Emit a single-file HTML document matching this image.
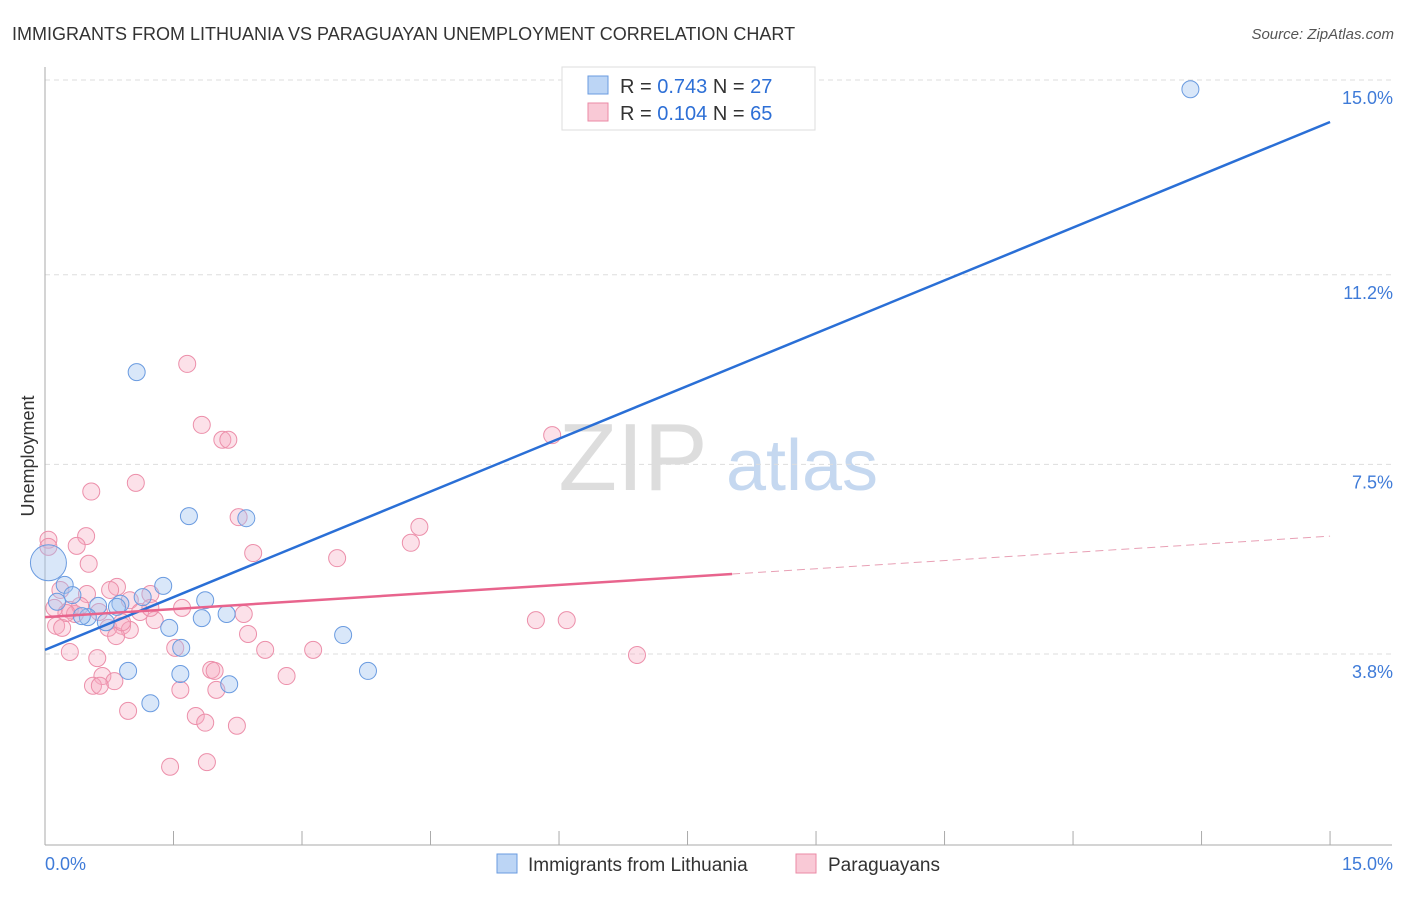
<!DOCTYPE html>
<html><head><meta charset="utf-8"><style>
body{margin:0;background:#fff;font-family:"Liberation Sans",sans-serif;}
svg text{font-family:"Liberation Sans",sans-serif;}
</style></head><body>
<svg id="c" width="1406" height="892">
<text x="12" y="40" font-size="18" fill="#333">IMMIGRANTS FROM LITHUANIA VS PARAGUAYAN UNEMPLOYMENT CORRELATION CHART</text>
<text x="1394" y="39" font-size="15" fill="#555" font-style="italic" text-anchor="end">Source: ZipAtlas.com</text>
<text transform="translate(34,456) rotate(-90)" font-size="18" fill="#333" text-anchor="middle">Unemployment</text>
<g><text x="633" y="490" font-size="96" fill="#ddd" font-family="Liberation Serif" text-anchor="middle">ZIP</text><text x="802" y="490" font-size="72" fill="#c5d8f0" text-anchor="middle">atlas</text></g>
<g id="grid"></g><g id="axes"></g><g id="pts"></g><g id="lines"></g>
<g>
<rect x="562" y="67" width="253" height="63" fill="#fff" stroke="#ddd"/>
<rect x="588" y="76" width="20" height="18" fill="#bcd5f5" stroke="#6a9be0"/>
<rect x="588" y="103" width="20" height="18" fill="#f9c9d6" stroke="#eb8aa6"/>
<text x="620" y="93" font-size="20" fill="#333">R = <tspan fill="#2d6fd6">0.743</tspan>   N = <tspan fill="#2d6fd6">27</tspan></text>
<text x="620" y="120" font-size="20" fill="#333">R = <tspan fill="#2d6fd6">0.104</tspan>   N = <tspan fill="#2d6fd6">65</tspan></text>
</g>
<g>
<rect x="497" y="854" width="20" height="19" fill="#bcd5f5" stroke="#6a9be0"/>
<text x="528" y="871" font-size="19" fill="#333">Immigrants from Lithuania</text>
<rect x="796" y="854" width="20" height="19" fill="#f9c9d6" stroke="#eb8aa6"/>
<text x="828" y="871" font-size="19" fill="#333">Paraguayans</text>
</g>
</svg>
<script>
const yTicks=[15.0,11.2,7.5,3.8];
const yTickLabels=["15.0%","11.2%","7.5%","3.8%"];
const xTicks=[0,1.5,3,4.5,6,7.5,9,10.5,12,13.5,15];
const blueX=[1.07,1.68,2.35,0.04,0.23,0.32,0.14,0.62,0.50,0.88,1.14,1.38,1.87,1.45,2.12,1.83,1.59,3.48,0.97,1.58,2.15,1.23,3.77,13.37,0.71,0.43,0.84];
const blueY=[9.30,6.49,6.45,5.58,5.15,4.95,4.82,4.74,4.52,4.78,4.91,5.13,4.85,4.31,4.58,4.50,3.92,4.17,3.47,3.41,3.21,2.84,3.47,14.82,4.42,4.54,4.72];
const pinkX=[1.66,1.83,2.07,2.14,1.06,0.54,5.92,2.26,4.37,0.48,4.27,0.37,2.43,3.41,0.51,0.04,0.04,0.84,0.76,1.23,0.49,0.11,0.29,0.35,0.99,1.60,2.32,1.11,1.28,0.13,0.20,0.74,0.90,0.99,0.83,2.37,2.57,3.13,1.52,0.29,0.61,0.67,1.94,1.98,2.82,0.81,0.56,0.64,1.58,2.00,0.97,1.76,1.87,2.24,1.46,1.89,5.73,6.09,6.91,0.18,1.23,0.90,0.63,0.41,0.25];
const pinkY=[9.46,8.27,7.98,7.98,7.14,6.97,8.07,6.47,6.28,6.10,5.97,5.91,5.77,5.67,5.56,6.03,5.89,5.11,5.05,4.97,4.97,4.70,4.66,4.58,4.85,4.70,4.58,4.62,4.46,4.35,4.31,4.31,4.35,4.27,4.15,4.19,3.88,3.88,3.92,3.84,3.72,3.37,3.49,3.47,3.37,3.27,3.18,3.18,3.10,3.10,2.69,2.59,2.46,2.40,1.60,1.69,4.46,4.46,3.78,5.05,4.70,4.42,4.62,4.74,4.60];
const blueLine=[[0,3.88],[15,14.18]];
const pinkSolid=[[0,4.52],[8.02,5.36]];
const pinkDash=[[8.02,5.36],[15,6.10]];
const X=v=>45+v*85.67, Y=v=>80+(15-v)*51.25;
const NS="http://www.w3.org/2000/svg";
function mk(t,a,p){const e=document.createElementNS(NS,t);for(const k in a)e.setAttribute(k,a[k]);p.appendChild(e);return e;}
const grid=document.getElementById('grid'),axes=document.getElementById('axes'),pts=document.getElementById('pts'),lines=document.getElementById('lines');
yTicks.forEach((v,i)=>{
 const l=mk('line',{x1:45,x2:1392,y1:Y(v),y2:Y(v),stroke:'#ddd','stroke-dasharray':'5,4'},grid);
 
 
 const t=mk('text',{x:1393,y:Y(v)+24,'font-size':18,fill:'#3f7bd8','text-anchor':'end'},grid);
 t.textContent=yTickLabels[i];
 
 
});
const ya=mk('line',{x1:45,x2:45,y1:67,y2:845,stroke:'#aaa'},axes);


const xa=mk('line',{x1:45,x2:1392,y1:845,y2:845,stroke:'#aaa'},axes);


xTicks.forEach(v=>{
 const t=mk('line',{x1:X(v),x2:X(v),y1:845,y2:831,stroke:'#aaa'},axes);
 
 
});
const xl0=mk('text',{x:45,y:870,'font-size':18,fill:'#3f7bd8'},axes);xl0.textContent='0.0%';


const xl1=mk('text',{x:1393,y:870,'font-size':18,fill:'#3f7bd8','text-anchor':'end'},axes);xl1.textContent='15.0%';


pinkX.forEach((v,i)=>{
 const c=mk('circle',{cx:X(v),cy:Y(pinkY[i]),r:8.5,fill:'rgba(246,170,192,0.35)',stroke:'#ec8faa','stroke-width':1},pts);
 
 
});
blueX.forEach((v,i)=>{
 const c=mk('circle',{cx:X(v),cy:Y(blueY[i]),r:i===3?18:8.5,fill:'rgba(160,195,240,0.4)',stroke:'#6a9be0','stroke-width':1},pts);
 
 
});
function ln(d,st,nm,dash){const l=mk('line',{x1:X(d[0][0]),y1:Y(d[0][1]),x2:X(d[1][0]),y2:Y(d[1][1]),stroke:st,'stroke-width':dash?1:2.5},lines);if(dash)l.setAttribute('stroke-dasharray','8,5');
 
 }
ln(blueLine,'#2a6fd6','lithuania-trend-line');
ln(pinkSolid,'#e8648d','paraguayans-trend-line');
ln(pinkDash,'#e8a0b5','paraguayans-trend-extension',true);
</script>
</body></html>
